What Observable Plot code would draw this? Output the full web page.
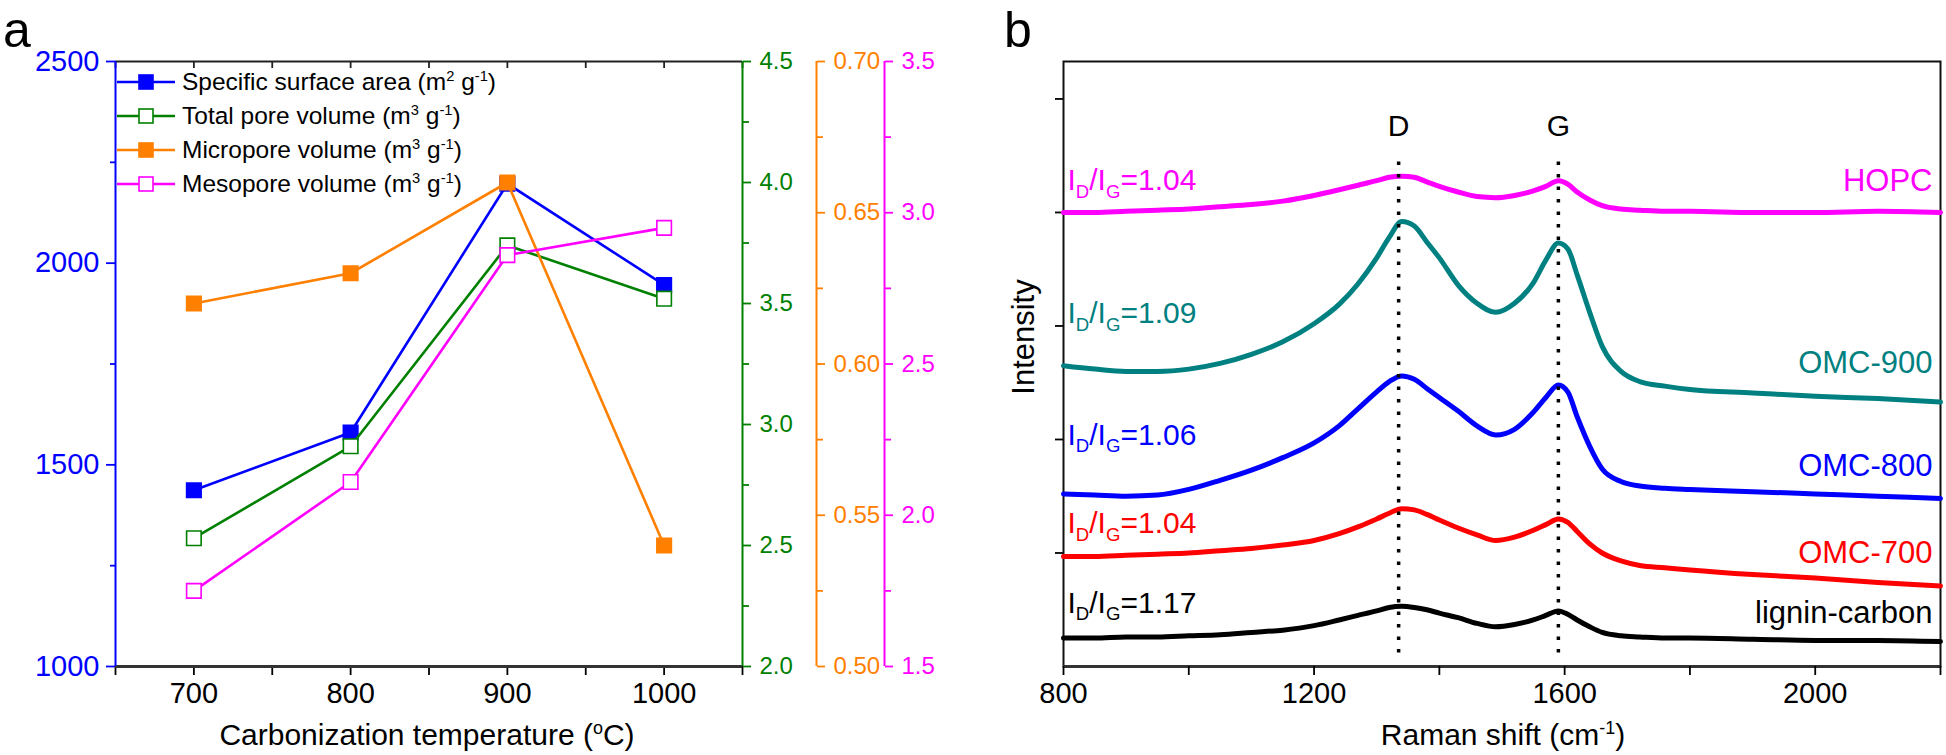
<!DOCTYPE html>
<html><head><meta charset="utf-8">
<script src="https://cdn.jsdelivr.net/npm/d3@7"></script>
<script src="https://cdn.jsdelivr.net/npm/@observablehq/plot@0.6"></script>
<style>
html,body{margin:0;padding:0;background:#fff;}
#root{position:relative;width:1946px;height:755px;overflow:hidden;font-family:"Liberation Sans",Arial,sans-serif;color:#000;}
.abs{position:absolute;}
.abs svg{display:block;max-width:none;}
sup{font-size:0.6em;vertical-align:0.6em;line-height:0;}
.legend-row{position:absolute;left:0;height:34px;display:flex;align-items:center;white-space:nowrap;font-size:24.5px;}
.title{position:absolute;white-space:nowrap;font-size:30px;transform:translate(-50%,-50%);}
.letter{position:absolute;font-size:50px;line-height:1;}
</style></head>
<body><div id="root"></div>
<script>
// ---------------- Panel a data ----------------
const temps = [700, 800, 900, 1000];
const surfaceArea = [1437, 1580, 2197, 1946];   // m2 g-1 (left axis)
const totalPore = [2.53, 2.91, 3.74, 3.52];     // green axis
const microPore = [0.62, 0.63, 0.66, 0.54];     // orange axis
const mesoPore = [1.75, 2.11, 2.86, 2.95];      // magenta axis

const tempTicks = [700, 800, 900, 1000];
const tempMinorTicks = [650, 750, 850, 950, 1050];
const areaTicks = [1000, 1500, 2000, 2500];
const areaMinorTicks = [1250, 1750, 2250];
const poreTicks = [2.0, 2.5, 3.0, 3.5, 4.0, 4.5];
const poreMinorTicks = [2.25, 2.75, 3.25, 3.75, 4.25];
const microTicks = [0.50, 0.55, 0.60, 0.65, 0.70];
const microMinorTicks = [0.525, 0.575, 0.625, 0.675];
const mesoTicks = [1.5, 2.0, 2.5, 3.0, 3.5];
const mesoMinorTicks = [1.75, 2.25, 2.75, 3.25];

const legendLabels = [
  "Specific surface area (m<sup>2</sup> g<sup>-1</sup>)",
  "Total pore volume (m<sup>3</sup> g<sup>-1</sup>)",
  "Micropore volume (m<sup>3</sup> g<sup>-1</sup>)",
  "Mesopore volume (m<sup>3</sup> g<sup>-1</sup>)"
];

// ---------------- Panel b data ----------------
const ramanShift = [800, 850, 900, 950, 1000, 1050, 1100, 1150, 1200, 1240, 1270, 1300, 1320, 1340, 1360, 1380, 1400, 1430, 1460, 1490, 1520, 1550, 1570, 1590, 1605, 1620, 1640, 1660, 1690, 1720, 1760, 1800, 1900, 2000, 2100, 2200];
const hopc =    [4.00, 4.00, 4.01, 4.02, 4.03, 4.05, 4.07, 4.10, 4.15, 4.20, 4.24, 4.28, 4.31, 4.32, 4.31, 4.27, 4.23, 4.18, 4.14, 4.13, 4.15, 4.19, 4.23, 4.28, 4.25, 4.18, 4.11, 4.06, 4.03, 4.02, 4.01, 4.01, 4.00, 4.00, 4.01, 4.00];
const omc900 =  [2.65, 2.62, 2.60, 2.60, 2.62, 2.67, 2.75, 2.86, 3.02, 3.19, 3.37, 3.60, 3.78, 3.92, 3.88, 3.74, 3.60, 3.36, 3.20, 3.12, 3.20, 3.38, 3.58, 3.73, 3.68, 3.45, 3.12, 2.82, 2.60, 2.51, 2.47, 2.44, 2.41, 2.38, 2.36, 2.33];
const omc800 =  [1.52, 1.51, 1.50, 1.51, 1.56, 1.64, 1.73, 1.84, 1.97, 2.12, 2.27, 2.42, 2.51, 2.56, 2.53, 2.45, 2.37, 2.25, 2.12, 2.04, 2.09, 2.24, 2.37, 2.48, 2.42, 2.20, 1.94, 1.74, 1.63, 1.59, 1.57, 1.56, 1.54, 1.52, 1.50, 1.48];
const omc700 =  [0.97, 0.97, 0.98, 0.99, 1.00, 1.02, 1.04, 1.07, 1.11, 1.17, 1.23, 1.30, 1.35, 1.39, 1.38, 1.34, 1.29, 1.22, 1.16, 1.11, 1.14, 1.20, 1.25, 1.30, 1.27, 1.19, 1.08, 1.00, 0.93, 0.89, 0.87, 0.85, 0.81, 0.78, 0.74, 0.71];
const lignin =  [0.25, 0.25, 0.26, 0.26, 0.27, 0.28, 0.30, 0.32, 0.36, 0.41, 0.45, 0.49, 0.52, 0.53, 0.52, 0.50, 0.47, 0.43, 0.38, 0.35, 0.37, 0.41, 0.45, 0.49, 0.46, 0.41, 0.35, 0.30, 0.27, 0.26, 0.25, 0.25, 0.24, 0.23, 0.23, 0.22];

const sampleNames = ["HOPC", "OMC-900", "OMC-800", "OMC-700", "lignin-carbon"];
const ratioLabels = ["I_{D}/I_{G}=1.04", "I_{D}/I_{G}=1.09", "I_{D}/I_{G}=1.06", "I_{D}/I_{G}=1.04", "I_{D}/I_{G}=1.17"];
const ratioLabelLevel = [4.28, 3.11, 2.04, 1.26, 0.56];
const sampleNameLevel = [4.28, 2.67, 1.77, 1.00, 0.47];
const peakNames = ["D", "G"];
const peakShift = [1335, 1590];
const peakLineSpan = [0.12, 4.52];
const peakLabelLevel = 4.76;
const ramanTicks = [800, 1200, 1600, 2000];
const ramanMinorTicks = [1000, 1400, 1800, 2200];
const intensityTicks = [1, 2, 3, 4, 5];

// ---------------- styling ----------------
const FONT = '"Liberation Sans", Arial, sans-serif';
const BLUE = "#0000FF", GREEN = "#008000", ORANGE = "#FF8000", MAGENTA = "#FF00FF";
const TEAL = "#008080", RED = "#FF0000", BLACK = "#000000";
const specColors = [MAGENTA, TEAL, BLUE, RED, BLACK];
const specSeries = [hopc, omc900, omc800, omc700, lignin];
const TICK_FS = 29, SIDE_FS = 24, ANNO_FS = 31;

const root = document.getElementById("root");
const blank = () => "";

function place(node, left, top) {
  const d = document.createElement("div");
  d.className = "abs";
  d.style.left = left + "px";
  d.style.top = top + "px";
  d.appendChild(node);
  root.appendChild(d);
  return d;
}

function richText(svg) {
  const ns = "http://www.w3.org/2000/svg";
  svg.querySelectorAll("text").forEach(t => {
    const s = t.textContent;
    if (!/[\^_]\{/.test(s)) return;
    const fs = parseFloat(getComputedStyle(t).fontSize) || 24;
    while (t.firstChild) t.removeChild(t.firstChild);
    const parts = s.split(/([\^_]\{[^}]*\})/);
    let shift = 0;
    for (const p of parts) {
      if (!p) continue;
      const sp = document.createElementNS(ns, "tspan");
      let target = 0, txt = p, small = false;
      const m = p.match(/^([\^_])\{([^}]*)\}$/);
      if (m) { small = true; txt = m[2]; target = m[1] === "^" ? -0.38 * fs : 0.26 * fs; }
      sp.setAttribute("dy", (target - shift).toFixed(2));
      shift = target;
      if (small) sp.setAttribute("font-size", (0.62 * fs).toFixed(1));
      sp.textContent = txt;
      t.appendChild(sp);
    }
  });
}

// ---------------- Panel a ----------------
const xDomainA = [650, 1050];
const areaDomain = [1000, 2500];
const poreDomain = [2.0, 4.5];
const microDomain = [0.50, 0.70];
const mesoDomain = [1.5, 3.5];
const WA = 1000, H = 755;
const marginA = {marginLeft: 115, marginRight: 258, marginTop: 61, marginBottom: 89};
const baseStyle = {background: "transparent", fontFamily: FONT, fontSize: "24px", overflow: "visible", maxWidth: "none"};

function layerA(yDomain, marks, withX) {
  return Plot.plot({
    width: WA, height: H, ...marginA,
    x: withX ? {domain: xDomainA} : {domain: xDomainA, axis: null},
    y: {domain: yDomain},
    style: baseStyle,
    marks
  });
}

function seriesMarks(values, color, filled) {
  const rows = temps.map((t, i) => ({t, v: values[i]}));
  return [
    Plot.line(rows, {x: "t", y: "v", stroke: color, strokeWidth: 2.6}),
    Plot.dot(rows, {x: "t", y: "v", symbol: "square", r: 8.2, fill: filled ? color : "white", stroke: color, strokeWidth: 1.6})
  ];
}

function sideAxis(ticks, minor, color, fmt, dx) {
  return [
    Plot.ruleX([xDomainA[1]], {stroke: color, strokeWidth: 2, dx}),
    Plot.axisY({anchor: "right", ticks, tickSize: 8, tickPadding: 9, color, tickFormat: fmt, label: null, dx, fontSize: SIDE_FS, strokeWidth: 1.8}),
    Plot.axisY({anchor: "right", ticks: minor, tickSize: 6, color, tickFormat: blank, label: null, dx, strokeWidth: 1.8})
  ];
}

const a1 = layerA(areaDomain, [
  Plot.ruleY([areaDomain[1]], {stroke: "#222", strokeWidth: 2}),
  Plot.axisX({anchor: "top", ticks: tempTicks.concat(tempMinorTicks), tickSize: 6, dy: 6, tickFormat: blank, label: null, stroke: "#222", strokeWidth: 1.8}),
  Plot.axisX({anchor: "bottom", ticks: tempTicks, tickSize: 9, tickPadding: 7, tickFormat: d => String(d), label: null, fontSize: TICK_FS, strokeWidth: 1.8}),
  Plot.axisX({anchor: "bottom", ticks: tempMinorTicks, tickSize: 9, tickFormat: blank, label: null, strokeWidth: 1.8}),
  Plot.axisY({anchor: "left", ticks: areaTicks, tickSize: 9, tickPadding: 7, color: BLUE, tickFormat: d => String(d), label: null, fontSize: TICK_FS, strokeWidth: 1.8}),
  Plot.axisY({anchor: "left", ticks: areaMinorTicks, tickSize: 5, color: BLUE, tickFormat: blank, label: null, strokeWidth: 1.8}),
  Plot.ruleY([areaDomain[0]], {stroke: "#333", strokeWidth: 3}),
  Plot.ruleX([xDomainA[0]], {stroke: BLUE, strokeWidth: 2}),
  ...seriesMarks(surfaceArea, BLUE, true)
], true);
const a2 = layerA(poreDomain, [
  ...sideAxis(poreTicks, poreMinorTicks, GREEN, d3.format(".1f"), 0),
  ...seriesMarks(totalPore, GREEN, false)
]);
const a3 = layerA(microDomain, [
  ...sideAxis(microTicks, microMinorTicks, ORANGE, d3.format(".2f"), 74),
  ...seriesMarks(microPore, ORANGE, true)
]);
const a4 = layerA(mesoDomain, [
  ...sideAxis(mesoTicks, mesoMinorTicks, MAGENTA, d3.format(".1f"), 142),
  ...seriesMarks(mesoPore, MAGENTA, false)
]);
[a1, a2, a3, a4].forEach(p => place(p, 0, 0));

// legend (inside panel a)
const legendColors = [BLUE, GREEN, ORANGE, MAGENTA];
const legendFilled = [true, false, true, false];
const legendBox = document.createElement("div");
legendBox.style.position = "relative";
legendLabels.forEach((lab, i) => {
  const row = document.createElement("div");
  row.className = "legend-row";
  row.style.top = (i * 34) + "px";
  const c = legendColors[i];
  row.innerHTML = `<svg width="58" height="34" style="display:block"><line x1="0" x2="58" y1="17" y2="17" stroke="${c}" stroke-width="2.6"/><rect x="22" y="10" width="14" height="14" fill="${legendFilled[i] ? c : "white"}" stroke="${c}" stroke-width="1.6"/></svg><span style="margin-left:7px">${lab}</span>`;
  legendBox.appendChild(row);
});
place(legendBox, 117, 65);

// ---------------- Panel b ----------------
const ramanDomain = [800, 2200];
const intensityDomain = [0, 5.33];
const marksB = [
  Plot.frame({stroke: "#111", strokeWidth: 2}),
  Plot.ruleY([intensityDomain[0]], {stroke: "#333", strokeWidth: 3}),
  Plot.axisX({anchor: "bottom", ticks: ramanTicks, tickSize: 9, tickPadding: 7, tickFormat: d => String(d), label: null, fontSize: TICK_FS, strokeWidth: 1.8}),
  Plot.axisX({anchor: "bottom", ticks: ramanMinorTicks, tickSize: 9, tickFormat: blank, label: null, strokeWidth: 1.8}),
  Plot.axisY({anchor: "left", ticks: intensityTicks, tickSize: 8, tickFormat: blank, label: null, strokeWidth: 1.8})
];
// draw bottom-most first so upper traces overlay
for (let k = specSeries.length - 1; k >= 0; k--) {
  const rows = ramanShift.map((x, i) => ({x, y: specSeries[k][i]}));
  marksB.push(Plot.line(rows, {x: "x", y: "y", stroke: specColors[k], strokeWidth: 5, curve: "monotone-x"}));
}
marksB.push(
  Plot.ruleX(peakShift, {y1: peakLineSpan[0], y2: peakLineSpan[1], stroke: "#000", strokeWidth: 3.5, strokeDasharray: "3.5,9"}),
  Plot.text(peakNames, {x: (d, i) => peakShift[i], y: () => peakLabelLevel, text: d => d, fontSize: 30, fill: "#000"})
);
sampleNames.forEach((name, i) => {
  marksB.push(
    Plot.text([ratioLabels[i]], {y: () => ratioLabelLevel[i], text: d => d, frameAnchor: "left", textAnchor: "start", dx: 4, fontSize: 30, fill: specColors[i]}),
    Plot.text([name], {y: () => sampleNameLevel[i], text: d => d, frameAnchor: "right", textAnchor: "end", dx: -8, fontSize: ANNO_FS, fill: specColors[i]})
  );
});
const b1 = Plot.plot({
  width: 946, height: H, marginLeft: 63, marginRight: 6, marginTop: 61, marginBottom: 89,
  x: {domain: ramanDomain}, y: {domain: intensityDomain},
  style: baseStyle,
  marks: marksB
});
place(b1, 1000, 0);

// ---------------- titles ----------------
function addHTML(cls, html, left, top, extra) {
  const d = document.createElement("div");
  d.className = cls;
  d.style.left = left + "px";
  d.style.top = top + "px";
  if (extra) Object.assign(d.style, extra);
  d.innerHTML = html;
  root.appendChild(d);
}
addHTML("letter", "a", 3, 5);
addHTML("letter", "b", 1004, 5);
addHTML("title", "Carbonization temperature (<sup>o</sup>C)", 427, 735);
addHTML("title", "Raman shift (cm<sup>-1</sup>)", 1503, 735);
addHTML("title", "Intensity", 1024, 337, {transform: "translate(-50%,-50%) rotate(-90deg)", fontSize: "31px"});

[a1, a2, a3, a4, b1].forEach(richText);
</script></body></html>
